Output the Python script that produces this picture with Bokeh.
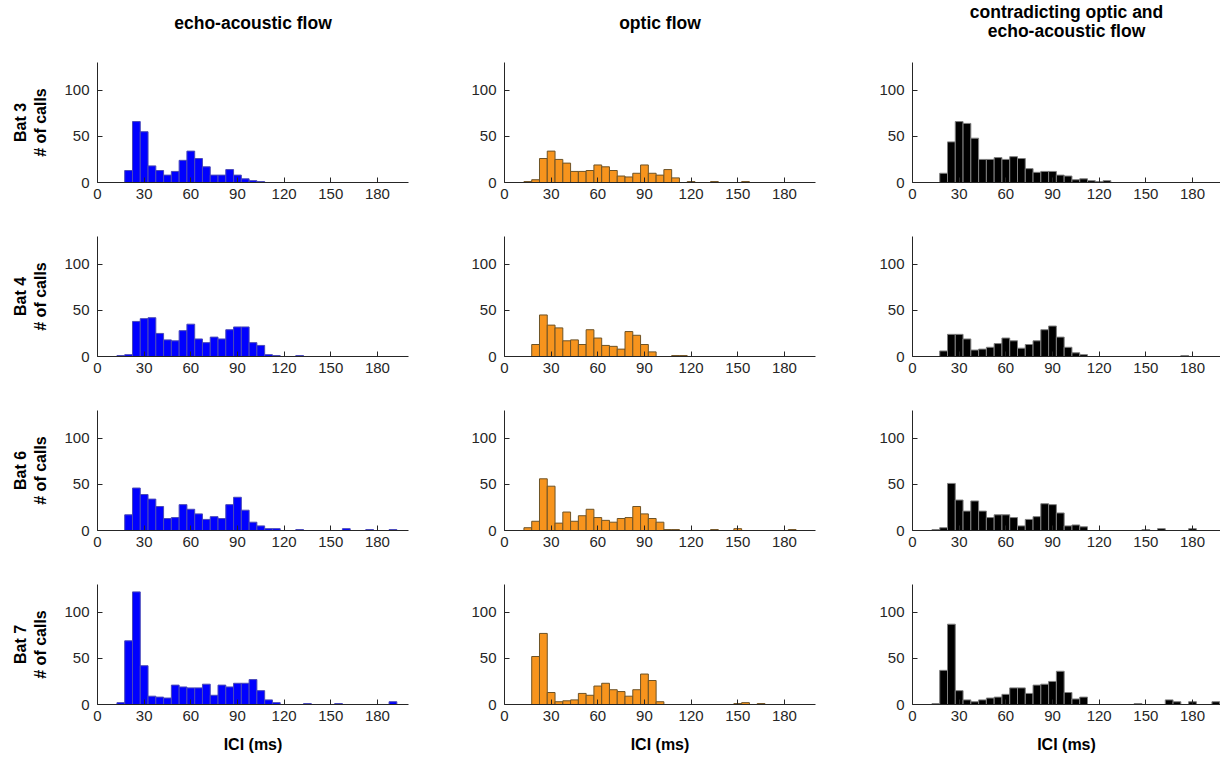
from bokeh.plotting import figure
from bokeh.models import Range1d, FixedTicker, Title
from bokeh.layouts import column, row
from bokeh.embed import file_html
from bokeh.resources import INLINE

# bin centres (ms), 5 ms bins
centers = list(range(10, 200, 5))

col_titles = ["echo-acoustic flow", "optic flow", "contradicting optic and|echo-acoustic flow"]
row_labels = ["Bat 3", "Bat 4", "Bat 6", "Bat 7"]
x_ticks = [0, 30, 60, 90, 120, 150, 180]
y_ticks = [0, 50, 100]

def expand(d):
    return [d.get(c, 0) for c in centers]

bat3_echo = expand({20: 13, 25: 66, 30: 55, 35: 18, 40: 13, 45: 8, 50: 12, 55: 24, 60: 34, 65: 26, 70: 17,
                    75: 8, 80: 8, 85: 14, 90: 8, 95: 4, 100: 2, 105: 1})
bat3_optic = expand({15: 1, 20: 3, 25: 26, 30: 34, 35: 25, 40: 21, 45: 12, 50: 12, 55: 13, 60: 19, 65: 17,
                     70: 13, 75: 7, 80: 6, 85: 10, 90: 19, 95: 10, 100: 8, 105: 14, 110: 5, 120: 1, 135: 1, 155: 1})
bat3_contra = expand({20: 10, 25: 44, 30: 66, 35: 64, 40: 48, 45: 25, 50: 25, 55: 27, 60: 25, 65: 28, 70: 26,
                      75: 15, 80: 11, 85: 12, 90: 12, 95: 8, 100: 7, 105: 3, 110: 4, 115: 2, 120: 1, 125: 2})
bat4_echo = expand({15: 1, 20: 2, 25: 38, 30: 41, 35: 42, 40: 25, 45: 18, 50: 17, 55: 28, 60: 35, 65: 19,
                    70: 15, 75: 21, 80: 19, 85: 29, 90: 32, 95: 32, 100: 15, 105: 12, 110: 2, 115: 1, 130: 1})
bat4_optic = expand({20: 13, 25: 45, 30: 34, 35: 31, 40: 17, 45: 18, 50: 13, 55: 29, 60: 20, 65: 12, 70: 11,
                     75: 8, 80: 27, 85: 23, 90: 13, 95: 5, 110: 1, 115: 1})
bat4_contra = expand({20: 6, 25: 24, 30: 24, 35: 19, 40: 7, 45: 8, 50: 10, 55: 14, 60: 20, 65: 17, 70: 9,
                      75: 13, 80: 17, 85: 29, 90: 33, 95: 21, 100: 10, 105: 4, 110: 2, 175: 1})
bat6_echo = expand({20: 17, 25: 46, 30: 39, 35: 34, 40: 26, 45: 13, 50: 14, 55: 28, 60: 23, 65: 18, 70: 12,
                    75: 15, 80: 13, 85: 28, 90: 36, 95: 22, 100: 9, 105: 5, 110: 2, 115: 2, 130: 1, 160: 2,
                    175: 1, 190: 1})
bat6_optic = expand({15: 3, 20: 10, 25: 56, 30: 48, 35: 8, 40: 20, 45: 10, 50: 16, 55: 23, 60: 14, 65: 11,
                     70: 9, 75: 13, 80: 14, 85: 26, 90: 18, 95: 13, 100: 9, 105: 1, 110: 1, 135: 1, 150: 2, 185: 1})
bat6_contra = expand({15: 1, 20: 3, 25: 51, 30: 33, 35: 21, 40: 32, 45: 21, 50: 14, 55: 17, 60: 17, 65: 14,
                      70: 5, 75: 12, 80: 15, 85: 29, 90: 28, 95: 19, 100: 5, 105: 6, 110: 4, 150: 1, 160: 2, 180: 2})
bat7_echo = expand({15: 2, 20: 69, 25: 122, 30: 42, 35: 9, 40: 8, 45: 7, 50: 21, 55: 19, 60: 18, 65: 18,
                    70: 22, 75: 10, 80: 21, 85: 19, 90: 23, 95: 23, 100: 27, 105: 15, 110: 5, 115: 2, 135: 1,
                    155: 1, 190: 3})
bat7_optic = expand({20: 52, 25: 77, 30: 13, 35: 3, 40: 4, 45: 5, 50: 12, 55: 10, 60: 20, 65: 23, 70: 16,
                     75: 14, 80: 9, 85: 16, 90: 33, 95: 26, 100: 3, 150: 1, 155: 2, 165: 1})
bat7_contra = expand({15: 1, 20: 37, 25: 87, 30: 15, 35: 5, 40: 3, 45: 5, 50: 7, 55: 8, 60: 11, 65: 18,
                      70: 18, 75: 12, 80: 21, 85: 22, 90: 25, 95: 36, 100: 13, 105: 6, 110: 8, 145: 1,
                      165: 5, 170: 3, 180: 3, 195: 3})

grid_data = [
    [bat3_echo, bat3_optic, bat3_contra],
    [bat4_echo, bat4_optic, bat4_contra],
    [bat6_echo, bat6_optic, bat6_contra],
    [bat7_echo, bat7_optic, bat7_contra],
]

fills = ["#0000FF", "#F7941D", "#000000"]
edges = ["#4a4ab8", "#6e5326", "#7f7f7f"]

FONT = "Liberation Sans"
AX = "#262626"

# layout geometry (page origin at 0,0)
frame_w = [311, 311, 308]
x_end = [200, 200, 198]
border_l = [97, 86, 87]
border_r = [10, 10, 0]
frame_h = 120
border_t = [62, 24, 24, 24]
border_b = [30, 30, 30, 52]


def ttl(text, size, standoff):
    return Title(text=text, align="center", text_font=FONT, text_font_size=size,
                 text_font_style="bold", text_color="#000000", standoff=standoff)


def panel(r, c):
    w = border_l[c] + frame_w[c] + border_r[c]
    h = border_t[r] + frame_h + border_b[r]
    p = figure(width=w, height=h, title=None, output_backend="svg", toolbar_location=None,
               x_range=Range1d(0, x_end[c]), y_range=Range1d(0, 130),
               min_border_left=border_l[c], min_border_right=border_r[c],
               min_border_top=border_t[r], min_border_bottom=border_b[r])
    p.vbar(x=centers, width=5, top=grid_data[r][c], bottom=0,
           fill_color=fills[c], line_color=edges[c], line_width=1)
    p.xgrid.visible = False
    p.ygrid.visible = False
    p.outline_line_color = None
    p.background_fill_color = "white"
    for ax in (p.xaxis[0], p.yaxis[0]):
        ax.axis_line_color = AX
        ax.major_tick_line_color = AX
        ax.major_tick_in = 5
        ax.major_tick_out = 0
        ax.minor_tick_line_color = None
        ax.major_label_text_font = FONT
        ax.major_label_text_font_size = "15px"
        ax.major_label_text_color = AX
        ax.axis_label_text_font = FONT
        ax.axis_label_text_font_size = "16px"
        ax.axis_label_text_font_style = "bold"
        ax.axis_label_text_color = "#000000"
    p.xaxis.ticker = FixedTicker(ticks=x_ticks)
    p.yaxis.ticker = FixedTicker(ticks=y_ticks)
    p.xaxis.major_label_standoff = 6
    p.yaxis.major_label_standoff = 8
    if r == 3:
        p.xaxis.axis_label = "ICI (ms)"
        p.xaxis.axis_label_standoff = 12
    if c == 0:
        p.yaxis.axis_label = "# of calls"
        p.yaxis.axis_label_standoff = 12
        t = Title(text=row_labels[r], align="center", text_font=FONT, text_font_size="16px",
                  text_font_style="bold", text_color="#000000", standoff=2)
        p.add_layout(t, "left")
    if r == 0:
        lines = col_titles[c].split("|")
        if len(lines) == 1:
            p.add_layout(ttl(" ", "10px", 17), "above")
            p.add_layout(ttl(lines[0], "17.5px", 0), "above")
        else:
            p.add_layout(ttl(" ", "10px", 9), "above")
            p.add_layout(ttl(lines[1], "17.5px", 0), "above")
            p.add_layout(ttl(lines[0], "17.5px", -6), "above")
    return p


rows = [row([panel(r, c) for c in range(3)], spacing=0) for r in range(4)]
layout = column(rows, spacing=0)

open("out.html", "w").write(file_html(layout, INLINE))
